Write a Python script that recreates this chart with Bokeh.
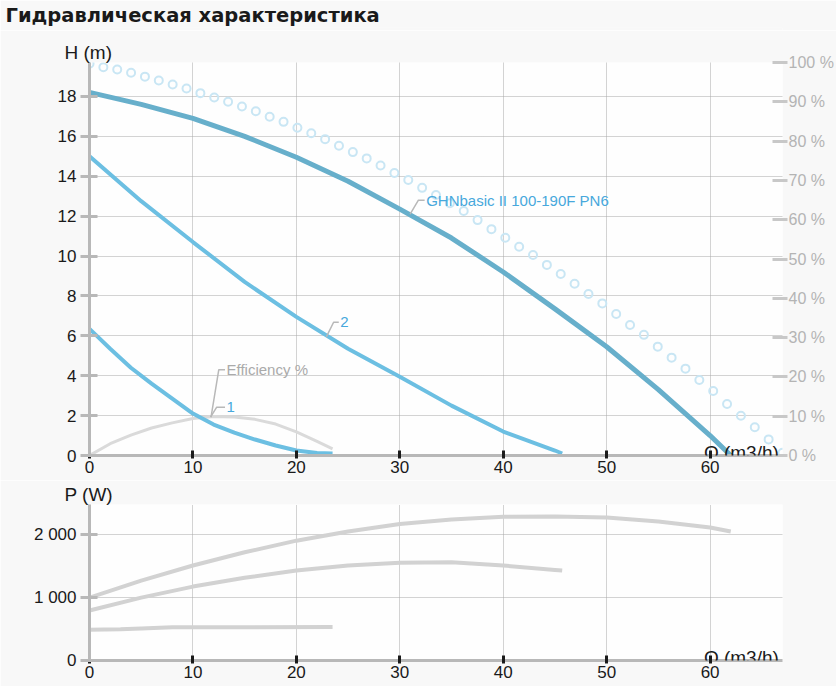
from bokeh.plotting import figure
from bokeh.models import Range1d, LinearAxis, FixedTicker, Label, PrintfTickFormatter, Title
from bokeh.layouts import column
from bokeh.embed import file_html
from bokeh.resources import INLINE

FONT = "Liberation Sans"

# ---------------- data ----------------
title_text = "Гидравлическая характеристика"

x_ticks = [0, 10, 20, 30, 40, 50, 60]
h_ticks = [0, 2, 4, 6, 8, 10, 12, 14, 16, 18]
pct_ticks = [0, 10, 20, 30, 40, 50, 60, 70, 80, 90, 100]
p_ticks = [0, 1000, 2000]
p_tick_labels = {0: "0", 1000: "1 000", 2000: "2 000"}

# H(Q) max speed
q_main = [0, 5, 10, 15, 20, 25, 30, 35, 40, 45, 50, 55, 60, 62]
h_main = [18.2, 17.6, 16.9, 16.0, 14.95, 13.75, 12.35, 10.9, 9.2, 7.35, 5.45, 3.3, 1.0, 0.0]
# H(Q) speed 2
q_s2 = [0, 5, 10, 15, 20, 25, 30, 35, 40, 45, 45.7]
h_s2 = [15.0, 12.75, 10.7, 8.7, 6.95, 5.35, 3.95, 2.5, 1.2, 0.25, 0.1]
# H(Q) speed 1
q_s1 = [0, 2, 4, 6, 8, 10, 12, 14, 16, 18, 20, 22, 23.5]
h_s1 = [6.35, 5.35, 4.4, 3.6, 2.85, 2.1, 1.55, 1.15, 0.8, 0.5, 0.25, 0.12, 0.1]
# efficiency (speed 1), %
q_eff = [0, 2, 4, 6, 8, 10, 12, 14, 16, 18, 20, 22, 23.5]
eff_pct = [0, 3.0, 5.2, 7.0, 8.3, 9.4, 9.9, 9.8, 9.2, 8.0, 6.0, 3.6, 1.7]
# efficiency envelope (circles), %
q_circ = [0.0, 1.34, 2.68, 4.02, 5.36, 6.7, 8.04, 9.38, 10.72, 12.06,
          13.4, 14.74, 16.08, 17.42, 18.76, 20.1, 21.44, 22.78, 24.12, 25.46,
          26.8, 28.14, 29.48, 30.82, 32.16, 33.5, 34.84, 36.18, 37.52, 38.86,
          40.2, 41.54, 42.88, 44.22, 45.56, 46.9, 48.24, 49.58, 50.92, 52.26,
          53.6, 54.94, 56.28, 57.62, 58.96, 60.3, 61.64, 62.98, 64.32, 65.66, 67.0]
pct_circ = [99.7, 98.8, 98.2, 97.4, 96.4, 95.4, 94.4, 93.4, 92.2, 91.1,
            90.0, 88.8, 87.6, 86.2, 84.9, 83.4, 82.0, 80.5, 78.8, 77.2,
            75.6, 73.8, 71.9, 70.1, 68.1, 66.3, 64.2, 62.2, 59.9, 57.6,
            55.4, 53.1, 51.0, 48.5, 46.2, 43.7, 41.1, 38.7, 36.0, 33.2,
            30.7, 27.7, 24.9, 22.1, 19.2, 16.4, 13.1, 10.1, 7.2, 4.1, 0.7]
# power curves, W
q_pa = [0, 5, 10, 15, 20, 25, 30, 35, 40, 45, 50, 55, 60, 62]
p_a = [1000, 1270, 1510, 1720, 1905, 2050, 2170, 2240, 2285, 2290, 2275, 2210, 2115, 2050]
q_pb = [0, 5, 10, 15, 20, 25, 30, 35, 40, 45, 45.7]
p_b = [795, 1000, 1175, 1315, 1430, 1510, 1555, 1560, 1510, 1440, 1430]
q_pc = [0, 3, 5, 8, 15, 23.5]
p_c = [490, 495, 510, 528, 530, 532]

# curve labels: (text, leader x, leader y)
lab_main = ("GHNbasic II 100-190F PN6", [31.0, 31.8, 32.4], [12.1, 12.8, 12.8])
lab_s2 = ("2", [22.9, 23.6, 24.1], [5.95, 6.68, 6.68])
lab_s1 = ("1", [11.7, 12.3, 13.1], [1.92, 2.42, 2.42])
lab_eff = ("Efficiency %", [11.75, 12.5, 13.1], [1.92, 4.3, 4.3])

# ---------------- style ----------------
W = 836
BORDER = "#f8f8f8"
BG = "#fefefe"
AXIS_GREY = "#b8b8b8"
GRID = "#a8a8a8"
BLUE_DARK = "#67afcb"
BLUE = "#6cbfe2"
LABEL_BLUE = "#47a8dc"
LEADER = "#b8b8b8"
INK = "#1a1a1a"


def style_common(fig):
    fig.outline_line_color = None
    fig.background_fill_color = BG
    fig.border_fill_color = BORDER
    fig.xgrid.ticker = FixedTicker(ticks=x_ticks[1:])
    for g in (fig.xgrid, fig.ygrid):
        g.grid_line_color = GRID
        g.grid_line_dash = "1 1"
        g.grid_line_width = 1
    xa = fig.xaxis[0]
    xa.ticker = FixedTicker(ticks=x_ticks)
    xa.axis_line_color = AXIS_GREY
    xa.axis_line_width = 3
    xa.major_tick_line_color = INK
    xa.major_tick_line_width = 3
    xa.major_tick_in = 5
    xa.major_tick_out = 3
    xa.minor_tick_line_color = None
    xa.major_label_standoff = 2
    xa.major_label_text_font = FONT
    xa.major_label_text_font_size = "17px"
    xa.major_label_text_color = INK
    ya = fig.yaxis[0]
    ya.axis_line_color = AXIS_GREY
    ya.axis_line_width = 3
    ya.major_tick_line_color = AXIS_GREY
    ya.major_tick_line_width = 3
    ya.major_tick_in = 8
    ya.major_tick_out = 9
    ya.minor_tick_line_color = None
    ya.major_label_standoff = 4
    ya.major_label_text_font = FONT
    ya.major_label_text_font_size = "17px"
    ya.major_label_text_color = INK


def text(fig, x, y, s, size, color, baseline="alphabetic"):
    fig.add_layout(Label(x=x, y=y, text=s, text_font=FONT, text_font_size=size,
                         text_color=color, text_baseline=baseline))


def title(fig, s, size, offset, standoff, font=FONT, bold=False):
    fig.add_layout(Title(text=s, align="left", offset=offset, standoff=standoff,
                         vertical_align="bottom", text_font=font, text_font_size=size,
                         text_color=INK,
                         text_font_style="bold" if bold else "normal"), "above")


# ---------------- heading ----------------
ph = figure(width=W, height=30, output_backend="svg", toolbar_location=None,
            x_axis_type=None, y_axis_type=None, min_border=0,
            outline_line_color=None, background_fill_color=BORDER,
            border_fill_color=BORDER)
title(ph, title_text, "19.5px", -84, 2, font="DejaVu Sans", bold=True)

# ---------------- top: H(Q) ----------------
p = figure(width=W, height=450, x_range=Range1d(0, 67), y_range=Range1d(0, 19.7),
           output_backend="svg", toolbar_location=None,
           min_border_left=89, min_border_right=53, min_border_top=32, min_border_bottom=25)
style_common(p)
p.yaxis[0].ticker = FixedTicker(ticks=h_ticks)
p.ygrid.ticker = FixedTicker(ticks=h_ticks[1:])

p.extra_y_ranges = {"pct": Range1d(0, 100)}
ra = LinearAxis(y_range_name="pct", ticker=FixedTicker(ticks=pct_ticks),
                formatter=PrintfTickFormatter(format="%d %%"))
ra.axis_line_color = None
ra.major_tick_line_color = "#c8c8c8"
ra.major_tick_line_width = 3
ra.major_tick_in = 10
ra.major_tick_out = 5
ra.minor_tick_line_color = None
ra.major_label_standoff = 1
ra.major_label_text_font = FONT
ra.major_label_text_font_size = "16px"
ra.major_label_text_color = "#b4b4b4"
p.add_layout(ra, "right")

p.scatter(q_circ, pct_circ, y_range_name="pct", marker="circle", size=8,
          line_color="#c9e6f4", line_width=2, fill_color=None)
p.line(q_eff, eff_pct, y_range_name="pct", line_width=3, line_color="#dadada")
p.line(q_main, h_main, line_width=5, line_color=BLUE_DARK)
p.line(q_s2, h_s2, line_width=4, line_color=BLUE)
p.line(q_s1, h_s1, line_width=4, line_color=BLUE)

for (s, lx, ly), col in ((lab_main, LABEL_BLUE), (lab_s2, LABEL_BLUE),
                         (lab_s1, LABEL_BLUE), (lab_eff, "#aaaaaa")):
    p.line(lx, ly, line_color=LEADER, line_width=1.5)
    text(p, lx[-1] + 0.15, ly[-1], s, "15px", col, baseline="middle")

title(p, "H (m)", "19px", -25, 0)
text(p, 59.4, 0.15, "Q (m3/h)", "19px", INK)

# ---------------- bottom: P(Q) ----------------
p2 = figure(width=W, height=206, x_range=Range1d(0, 67), y_range=Range1d(0, 2480),
            output_backend="svg", toolbar_location=None,
            min_border_left=89, min_border_right=53, min_border_top=24, min_border_bottom=26)
style_common(p2)
p2.yaxis[0].ticker = FixedTicker(ticks=p_ticks)
p2.yaxis[0].major_label_overrides = p_tick_labels
p2.ygrid.ticker = FixedTicker(ticks=p_ticks[1:])

p2.line(q_pa, p_a, line_width=4, line_color="#d2d2d2")
p2.line(q_pb, p_b, line_width=4, line_color="#d2d2d2")
p2.line(q_pc, p_c, line_width=4, line_color="#d2d2d2")

title(p2, "P (W)", "19px", -25, 0)
text(p2, 59.4, 55, "Q (m3/h)", "19px", INK)

layout = column(ph, p, p2, spacing=0)
open("out.html", "w").write(file_html(layout, INLINE))
